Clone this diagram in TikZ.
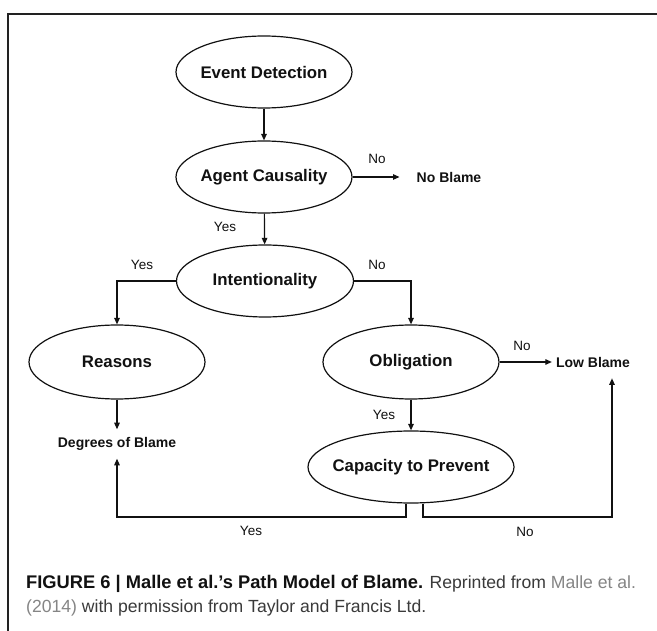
\documentclass[tikz,border=0pt]{standalone}
\usepackage{fontspec}
\setmainfont{Liberation Sans}
\usetikzlibrary{shapes.geometric,arrows.meta,calc}
\definecolor{ink}{HTML}{111111}
\definecolor{capgray}{HTML}{3A3A3A}
\definecolor{linkgray}{HTML}{858585}
\definecolor{framec}{HTML}{222222}
\begin{document}
\begin{tikzpicture}[x=1pt,y=-1pt,
  ell/.style={ellipse, draw=ink, line width=1.2pt, inner sep=0pt, text=ink,
    font=\bfseries\fontsize{16.8}{20}\selectfont},
  lbl/.style={text=ink, inner sep=0pt, font=\fontsize{13.5}{16}\selectfont},
  outc/.style={text=ink, font=\bfseries\fontsize{14}{17}\selectfont},
  arr/.style={draw=ink, line width=1.2pt, -{Triangle[length=6.5pt,width=5.5pt]}},
  capt/.style={anchor=west, inner sep=0pt, text=capgray, font=\fontsize{17.6}{21}\selectfont}
]
\useasboundingbox (0,0) rectangle (657,631);
\fill[white] (0,0) rectangle (657,631);
\draw[framec, line width=2.4pt] (657,14) -- (8,14) -- (8,631);

% ellipses
\node[ell, minimum width=176pt, minimum height=72pt] (ed)  at (264,72)  {\makebox[0pt]{Event Detection}};
\node[ell, minimum width=176pt, minimum height=72pt] (ac)  at (264,177) {\makebox[0pt]{Agent Causality}};
\node[ell, minimum width=177pt, minimum height=72pt] (int) at (265,281) {\makebox[0pt]{Intentionality}};
\node[ell, minimum width=176pt, minimum height=74pt] (rea) at (117,362) {\makebox[0pt]{Reasons}};
\node[ell, minimum width=176pt, minimum height=74pt] (obl) at (411,362) {\makebox[0pt]{Obligation}};
\node[ell, minimum width=206pt, minimum height=72pt] (cp)  at (411,467) {\makebox[0pt]{Capacity to Prevent}};

% outcomes
\node[outc, inner xsep=17pt, inner ysep=2pt] (nob) at (449,177) {No Blame};
\node[outc, inner xsep=4pt, inner ysep=11pt] (lowb) at (593,362) {Low Blame};
\node[outc, inner xsep=2pt, inner ysep=8pt] (deg) at (117,444) {Degrees of Blame};

% labels
\node[lbl] (l1) at (377,159) {No};
\node[lbl] (l2) at (225,227) {Yes};
\node[lbl] (l3) at (142,265) {Yes};
\node[lbl] (l4) at (377,265) {No};
\node[lbl] (l5) at (522,346) {No};
\node[lbl] (l6) at (384,415) {Yes};
\node[lbl] (l7) at (251,531) {Yes};
\node[lbl] (l8) at (525,532) {No};

% connectors
\draw[arr] (ed) -- (ac);
\draw[arr] (ac.east) -- (nob.west);
\draw[arr] (ac) -- (int);
\draw[arr] (int.west) -| (rea.north);
\draw[arr] (int.east) -| (obl.north);
\draw[arr] (obl.east) -- (lowb.west);
\draw[arr] (obl) -- (cp);
\draw[arr] (rea.south) -- (deg.north);

\coordinate (base) at (0,517);
\coordinate (cpl) at ([xshift=-5pt]cp.south);
\coordinate (cpr) at ([xshift=12pt]cp.south);
\coordinate (lbin) at ([xshift=19pt]lowb.south);
\draw[arr] (cpl) |- (deg.south |- base) -- (deg.south);
\draw[arr] (cpr) |- (lbin |- base) -- (lbin);

% caption
\node[capt] (cap1) at (26,584) {{\color{ink}\bfseries\fontsize{18.3}{21}\selectfont FIGURE 6 | Malle et al.’s Path Model of Blame.} Reprinted from {\color{linkgray}Malle et al.}};
\node[capt] (cap2) at (26,608) {{\color{linkgray}(2014)} with permission from Taylor and Francis Ltd.};
\end{tikzpicture}
\end{document}
